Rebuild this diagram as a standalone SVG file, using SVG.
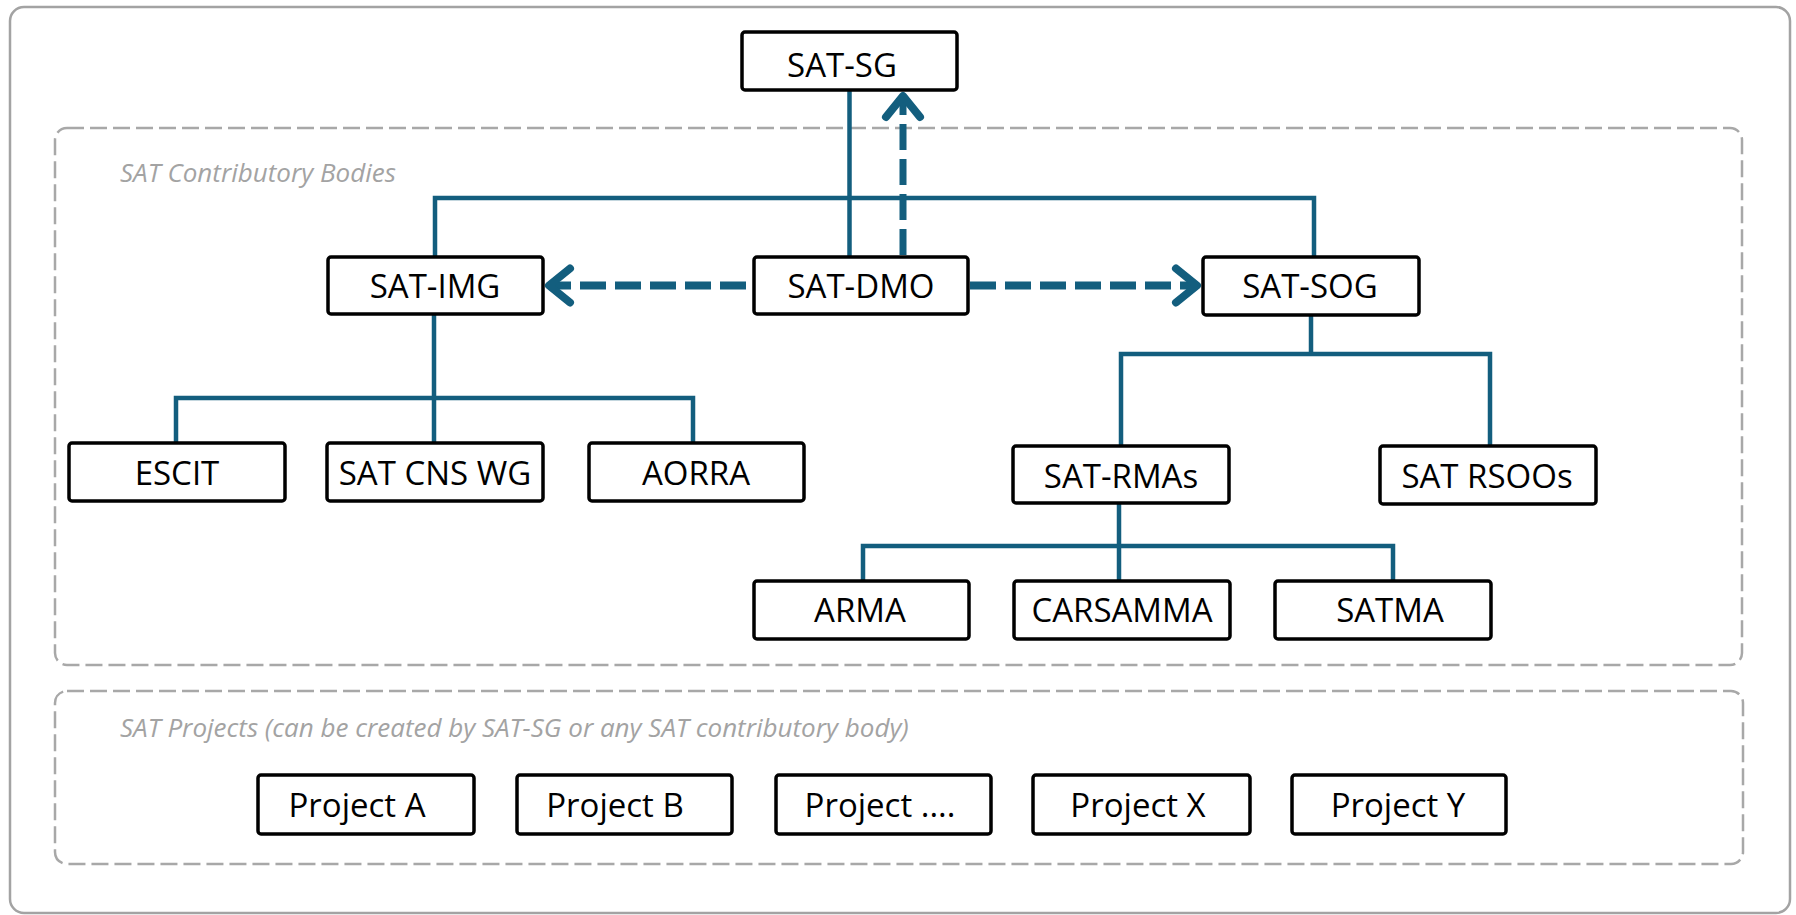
<svg xmlns="http://www.w3.org/2000/svg" width="1796" height="915" viewBox="0 0 1796 915">
  <defs>
    <style>
      .frame { fill: #ffffff; stroke: #a3a3a3; stroke-width: 2.5; }
      .group { fill: none; stroke: #a8a8a8; stroke-width: 2.5; stroke-dasharray: 17 6; }
      .glabel { font-family: "Open Sans", "Liberation Sans", sans-serif; font-style: italic; font-size: 26px; fill: #a3a3a3; }
      .node rect { fill: #ffffff; stroke: #000000; stroke-width: 3.5; }
      .node text { font-family: "Open Sans", "Liberation Sans", sans-serif; font-size: 33px; fill: #000000; text-anchor: middle; }
      .link { fill: none; stroke: #135e7e; stroke-width: 4.5; stroke-linejoin: miter; }
      .dlink { fill: none; stroke: #135e7e; stroke-width: 8; stroke-dasharray: 26 9; }
      .dlinkv { fill: none; stroke: #135e7e; stroke-width: 7; stroke-dasharray: 26 9; }
    </style>
    <marker id="chev" markerUnits="userSpaceOnUse" markerWidth="50" markerHeight="50" refX="26" refY="25" orient="auto" overflow="visible">
      <path d="M 5 8 L 26 25 L 5 42" fill="none" stroke="#135e7e" stroke-width="8" stroke-linecap="round" stroke-linejoin="round"/>
    </marker>
  </defs>

  <rect class="frame" x="10" y="7" width="1780" height="906" rx="14"/>

  <g id="group-contributory">
    <rect class="group" x="55" y="128" width="1687" height="537" rx="12"/>
    <text class="glabel" x="120" y="182">SAT Contributory Bodies</text>
  </g>
  <g id="group-projects">
    <rect class="group" x="55" y="691" width="1688" height="173" rx="12"/>
    <text class="glabel" x="120" y="737">SAT Projects (can be created by SAT-SG or any SAT contributory body)</text>
  </g>

  <g id="connectors">
    <path class="link" d="M 849.5 90 V 257"/>
    <path class="link" d="M 435 257 V 198 H 1314 V 257"/>
    <path class="link" d="M 434 314 V 443"/>
    <path class="link" d="M 176 443 V 398 H 693 V 443"/>
    <path class="link" d="M 1311 315 V 354"/>
    <path class="link" d="M 1121 446 V 354 H 1490 V 446"/>
    <path class="link" d="M 1119 503 V 581"/>
    <path class="link" d="M 863 581 V 546 H 1393 V 581"/>
    <path class="dlink" d="M 746 285.5 L 549 285.5" marker-end="url(#chev)"/>
    <path class="dlink" d="M 970 285.5 L 1197 285.5" marker-end="url(#chev)"/>
    <path class="dlinkv" d="M 903 255 L 903 96" marker-end="url(#chev)"/>
  </g>

  <g id="node-sat-sg" class="node"><rect x="742" y="32" width="215" height="58" rx="3"/><text x="842" y="77">SAT-SG</text></g>
  <g id="node-sat-img" class="node"><rect x="328" y="257" width="215" height="57" rx="3"/><text x="435" y="298">SAT-IMG</text></g>
  <g id="node-sat-dmo" class="node"><rect x="754" y="257" width="214" height="57" rx="3"/><text x="861" y="298">SAT-DMO</text></g>
  <g id="node-sat-sog" class="node"><rect x="1203" y="257" width="216" height="58" rx="3"/><text x="1310" y="298">SAT-SOG</text></g>
  <g id="node-escit" class="node"><rect x="69" y="443" width="216" height="58" rx="3"/><text x="177" y="485">ESCIT</text></g>
  <g id="node-sat-cns-wg" class="node"><rect x="327" y="443" width="216" height="58" rx="3"/><text x="435" y="485">SAT CNS WG</text></g>
  <g id="node-aorra" class="node"><rect x="589" y="443" width="215" height="58" rx="3"/><text x="696" y="485">AORRA</text></g>
  <g id="node-sat-rmas" class="node"><rect x="1013" y="446" width="216" height="57" rx="3"/><text x="1121" y="488">SAT-RMAs</text></g>
  <g id="node-sat-rsoos" class="node"><rect x="1380" y="446" width="216" height="58" rx="3"/><text x="1487" y="488">SAT RSOOs</text></g>
  <g id="node-arma" class="node"><rect x="754" y="581" width="215" height="58" rx="3"/><text x="860" y="622">ARMA</text></g>
  <g id="node-carsamma" class="node"><rect x="1014" y="581" width="216" height="58" rx="3"/><text x="1122" y="622">CARSAMMA</text></g>
  <g id="node-satma" class="node"><rect x="1275" y="581" width="216" height="58" rx="3"/><text x="1390" y="622">SATMA</text></g>

  <g id="node-project-a" class="node"><rect x="258" y="775" width="216" height="59" rx="3"/><text x="357" y="817">Project A</text></g>
  <g id="node-project-b" class="node"><rect x="517" y="775" width="215" height="59" rx="3"/><text x="615" y="817">Project B</text></g>
  <g id="node-project-etc" class="node"><rect x="776" y="775" width="215" height="59" rx="3"/><text x="880" y="817">Project ....</text></g>
  <g id="node-project-x" class="node"><rect x="1033" y="775" width="217" height="59" rx="3"/><text x="1138" y="817">Project X</text></g>
  <g id="node-project-y" class="node"><rect x="1292" y="775" width="214" height="59" rx="3"/><text x="1398" y="817">Project Y</text></g>
</svg>
